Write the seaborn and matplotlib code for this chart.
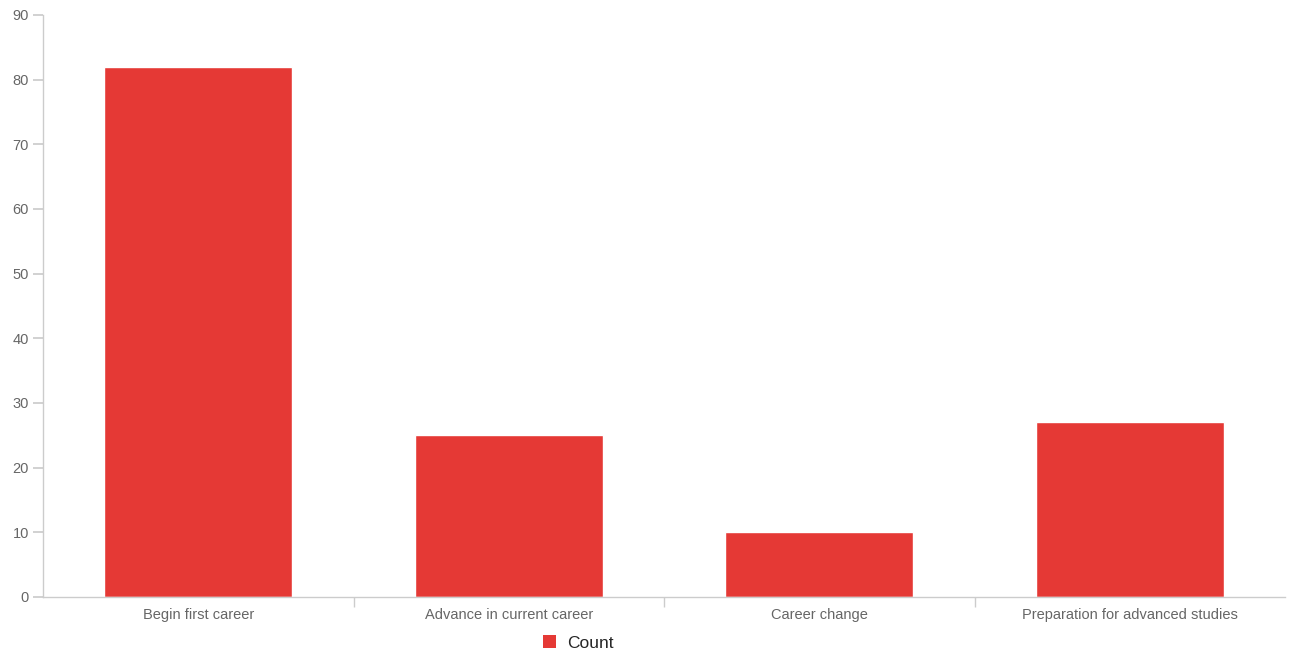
import pandas as pd
import matplotlib.pyplot as plt
import seaborn as sns
from matplotlib.patches import Patch

# Données
categories = ['Begin first career', 'Advance in current career', 'Career change',
              'Preparation for advanced studies']
counts = [82, 25, 10, 27]
yticks = [0, 10, 20, 30, 40, 50, 60, 70, 80, 90]

df = pd.DataFrame({'category': categories, 'Count': counts})

sns.set_theme(style="white")
plt.rcParams['font.family'] = ['Liberation Sans Narrow', 'Liberation Sans', 'DejaVu Sans']

bar_color = '#E53935'
grey = '#666666'
line = '#cccccc'

fig = plt.figure(figsize=(12.9, 6.56), dpi=100)
ax = fig.add_axes([43 / 1290, 59 / 656, 1242 / 1290, 582 / 656])

sns.barplot(data=df, x='category', y='Count', color=bar_color, width=0.605,
            saturation=1, ax=ax)

ax.set_xlim(-0.5, 3.5)
ax.set_ylim(0, 90)
ax.set_yticks(yticks)
ax.set_xlabel('')
ax.set_ylabel('')

# Axes
for s in ['top', 'right']:
    ax.spines[s].set_visible(False)
ax.spines['left'].set_color(line)
ax.spines['bottom'].set_color(line)
ax.spines['left'].set_linewidth(1)
ax.spines['bottom'].set_linewidth(1)

ax.tick_params(axis='y', length=7, color=line, labelcolor=grey, labelsize=10.5, pad=3,
               left=True)
ax.tick_params(axis='x', which='major', length=0, labelcolor=grey, labelsize=10.5, pad=8)
ax.set_xticks([0.5, 1.5, 2.5], minor=True)
ax.tick_params(axis='x', which='minor', length=7, color=line, bottom=True)

# Légende
handles = [Patch(facecolor=bar_color, edgecolor='none', label='Count')]
fig.legend(handles=handles, loc='center', bbox_to_anchor=(578 / 1290, 1 - 643 / 656),
           frameon=False, fontsize=12.5, handlelength=0.8, handleheight=0.8,
           handletextpad=0.6)

fig.savefig('out.png', dpi=100)
